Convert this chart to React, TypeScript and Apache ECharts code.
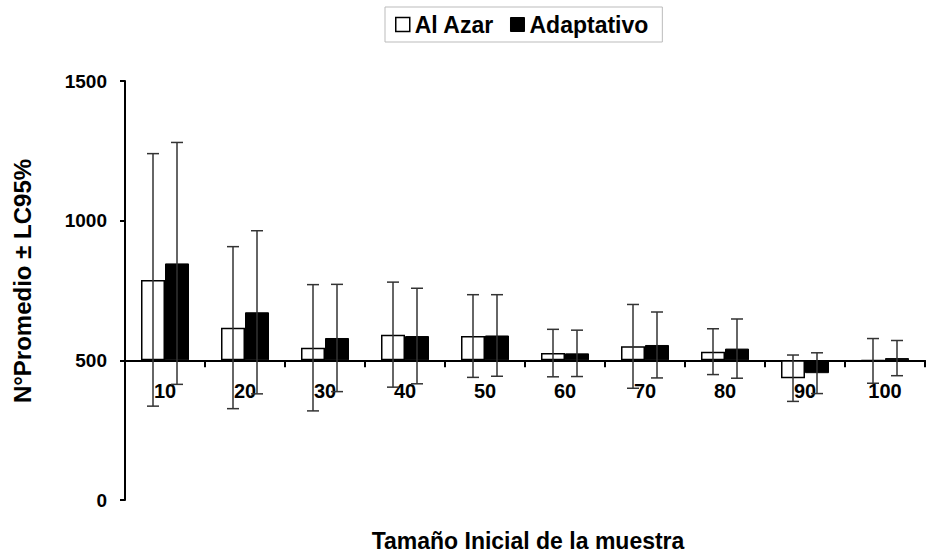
import React, { useEffect, useRef } from "react";
import * as echarts from "echarts";

const categories = ["10", "20", "30", "40", "50", "60", "70", "80", "90", "100"];
const alAzarMean = [788, 617, 545, 592, 587, 526, 550, 531, 436, 498];
const alAzarCI = [452, 290, 226, 188, 148, 85, 150, 82, 83, 80];
const adaptativoMean = [847, 672, 580, 587, 589, 525, 555, 542, 454, 508];
const adaptativoCI = [433, 292, 192, 171, 146, 83, 118, 106, 73, 63];
const BASELINE = 500;
const Y_MIN = 0;
const Y_MAX = 1500;
const Y_STEP = 500;

const FONT = "Liberation Sans, Arial, sans-serif";
const BAR_W = 24;
const GRID_TOP = 81;
const GRID_BOTTOM = 55;
const CHART_H = 555;
const GRID_H = CHART_H - GRID_TOP - GRID_BOTTOM;
// shift the category axis up so that it crosses the value axis at the baseline
const X_AXIS_OFFSET = -GRID_H * (BASELINE - Y_MIN) / (Y_MAX - Y_MIN);

function errorSeries(name: string, means: number[], cis: number[], dx: number) {
  return {
    type: "custom",
    name,
    z: 10,
    silent: true,
    data: means.map((m, i) => [i, m - cis[i] - BASELINE, m + cis[i] - BASELINE]),
    renderItem: (params: any, api: any) => {
      const i = api.value(0);
      const lo = api.coord([i, api.value(1)]);
      const hi = api.coord([i, api.value(2)]);
      const x = lo[0] + dx;
      const cap = 6;
      const style = { stroke: "#333", lineWidth: 1.5 };
      return {
        type: "group",
        children: [
          { type: "line", shape: { x1: x, y1: lo[1], x2: x, y2: hi[1] }, style },
          { type: "line", shape: { x1: x - cap, y1: hi[1], x2: x + cap, y2: hi[1] }, style },
          { type: "line", shape: { x1: x - cap, y1: lo[1], x2: x + cap, y2: lo[1] }, style },
        ],
      };
    },
  };
}

export default function App() {
  const ref = useRef<HTMLDivElement>(null);
  useEffect(() => {
    if (!ref.current) return;
    const chart = echarts.init(ref.current, null, { renderer: "svg" });
    chart.setOption({
      animation: false,
      backgroundColor: "#fff",
      legend: {
        left: 385,
        top: 7,
        padding: [6, 14, 6, 10],
        itemGap: 16,
        itemWidth: 14,
        itemHeight: 14,
        borderColor: "#bbb",
        borderWidth: 1,
        textStyle: { fontFamily: FONT, fontWeight: "bold", fontSize: 23, color: "#000" },
        data: [
          { name: "Al Azar", icon: "rect", itemStyle: { color: "#fff", borderColor: "#000", borderWidth: 1.5 } },
          { name: "Adaptativo", icon: "rect", itemStyle: { color: "#000", borderColor: "#000", borderWidth: 1 } },
        ],
      },
      grid: {
        left: 125,
        right: 1,
        top: GRID_TOP,
        bottom: GRID_BOTTOM,
        containLabel: false,
        outerBoundsMode: "none",
      },
      xAxis: {
        type: "category",
        data: categories,
        offset: X_AXIS_OFFSET,
        axisLine: { onZero: false, lineStyle: { color: "#000", width: 2 } },
        axisTick: { show: true, length: 7, lineStyle: { color: "#000", width: 2 } },
        axisLabel: { margin: 21, fontFamily: FONT, fontWeight: "bold", fontSize: 20, color: "#000" },
        splitLine: { show: false },
      },
      yAxis: {
        type: "value",
        min: Y_MIN - BASELINE,
        max: Y_MAX - BASELINE,
        interval: Y_STEP,
        axisLine: { show: true, onZero: false, lineStyle: { color: "#000", width: 2 } },
        axisTick: { show: true, length: 5, lineStyle: { color: "#000", width: 2 } },
        axisLabel: {
          margin: 18,
          fontFamily: FONT,
          fontWeight: "bold",
          fontSize: 19,
          color: "#000",
          formatter: (v: number) => String(v + BASELINE),
        },
        splitLine: { show: false },
      },
      graphic: [
        {
          type: "text",
          x: 22,
          y: 281,
          rotation: Math.PI / 2,
          style: {
            text: "N°Promedio ± LC95%",
            fontFamily: FONT,
            fontWeight: "bold",
            fontSize: 24,
            fill: "#000",
            align: "center",
            verticalAlign: "middle",
          },
        },
        {
          type: "text",
          x: 528,
          y: 541,
          style: {
            text: "Tamaño Inicial de la muestra",
            fontFamily: FONT,
            fontWeight: "bold",
            fontSize: 23,
            fill: "#000",
            align: "center",
            verticalAlign: "middle",
          },
        },
      ],
      series: [
        {
          type: "bar",
          name: "Al Azar",
          barWidth: BAR_W,
          barGap: "0%",
          data: alAzarMean.map((v) => v - BASELINE),
          itemStyle: { color: "#fff", borderColor: "#000", borderWidth: 1.5 },
        },
        {
          type: "bar",
          name: "Adaptativo",
          barWidth: BAR_W,
          barGap: "0%",
          data: adaptativoMean.map((v) => v - BASELINE),
          itemStyle: { color: "#000", borderColor: "#000", borderWidth: 1 },
        },
        errorSeries("Al Azar CI", alAzarMean, alAzarCI, -BAR_W / 2),
        errorSeries("Adaptativo CI", adaptativoMean, adaptativoCI, BAR_W / 2),
      ],
    });
    return () => chart.dispose();
  }, []);
  return (
    <div
      ref={ref}
      style={{ position: "fixed", left: 0, top: 0, width: 926, height: 555, background: "#fff" }}
    />
  );
}
